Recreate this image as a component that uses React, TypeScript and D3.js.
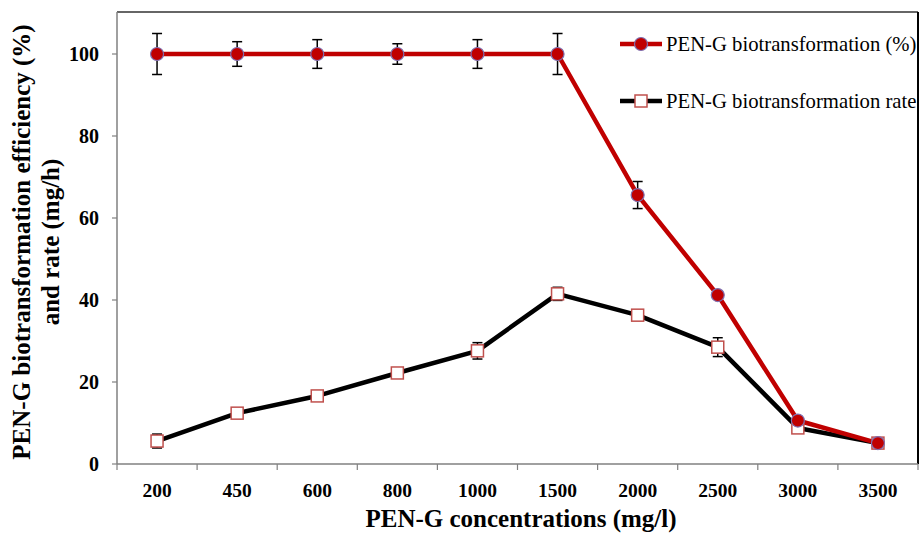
import React from "react";
import * as d3 from "d3";

const categories = ["200", "450", "600", "800", "1000", "1500", "2000", "2500", "3000", "3500"];
const efficiency = [100, 100, 100, 100, 100, 100, 65.6, 41.2, 10.6, 5.1];
const efficiencyErr = [5, 3, 3.5, 2.5, 3.5, 5, 3.3, 0, 0, 0];
const rate = [5.6, 12.4, 16.6, 22.2, 27.6, 41.5, 36.3, 28.5, 8.8, 5.1];
const rateErr = [1.7, 0, 0, 0, 2, 1.6, 0.8, 2.3, 0, 0];
const yTicks = [0, 20, 40, 60, 80, 100];

const W = 920, H = 533;
const L = 117, R = 918, T = 12, B = 464;

export default function App() {
  const x = d3.scaleBand<string>().domain(categories).range([L, R]);
  const y = d3.scaleLinear().domain([0, 100]).range([B, B - 410]);
  const cx = (c: string) => (x(c) as number) + x.bandwidth() / 2;
  const line = d3.line<number>().x((_, i) => cx(categories[i])).y((d) => y(d));
  const font = "'Liberation Serif', 'Times New Roman', serif";
  const boundaries = categories.map((c) => x(c) as number).concat([R]);

  const errBars = (vals: number[], errs: number[], key: string) =>
    vals.map((v, i) =>
      errs[i] > 0 ? (
        <g key={key + i} stroke="#000" strokeWidth={1.5}>
          <line x1={cx(categories[i])} x2={cx(categories[i])} y1={y(v + errs[i])} y2={y(v - errs[i])} />
          <line x1={cx(categories[i]) - 5} x2={cx(categories[i]) + 5} y1={y(v + errs[i])} y2={y(v + errs[i])} />
          <line x1={cx(categories[i]) - 5} x2={cx(categories[i]) + 5} y1={y(v - errs[i])} y2={y(v - errs[i])} />
        </g>
      ) : null
    );

  return (
    <svg width={W} height={H} style={{ position: "absolute", left: 0, top: 0, background: "#fff" }} fontFamily={font}>
      <rect x={0} y={0} width={W} height={H} fill="#fff" />
      {/* frame */}
      <line x1={L} x2={R} y1={T} y2={T} stroke="#333" strokeWidth={1.5} />
      <line x1={R} x2={R} y1={T} y2={B} stroke="#000" strokeWidth={2} />
      <line x1={L} x2={L} y1={T} y2={B} stroke="#808080" strokeWidth={1.5} />
      <line x1={L} x2={R} y1={B} y2={B} stroke="#808080" strokeWidth={1.5} />
      {/* y ticks */}
      {yTicks.map((t) => (
        <g key={"yt" + t}>
          <line x1={L - 5} x2={L} y1={y(t)} y2={y(t)} stroke="#808080" strokeWidth={1.2} />
          <text x={99} y={y(t) + 7} textAnchor="end" fontSize={20} fontWeight="bold">{t}</text>
        </g>
      ))}
      {/* x ticks */}
      {boundaries.map((b, i) => (
        <line key={"xt" + i} x1={b} x2={b} y1={B} y2={B + 6} stroke="#808080" strokeWidth={1.2} />
      ))}
      {categories.map((c) => (
        <text key={"xl" + c} x={cx(c)} y={497} textAnchor="middle" fontSize={19.5} fontWeight="bold">{c}</text>
      ))}
      {/* axis titles */}
      <text x={521} y={527} textAnchor="middle" fontSize={25} fontWeight="bold">PEN-G concentrations (mg/l)</text>
      <text transform={`translate(29.5, 242) rotate(-90)`} textAnchor="middle" fontSize={25} fontWeight="bold">PEN-G biotransformation efficiency (%)</text>
      <text transform={`translate(59, 242) rotate(-90)`} textAnchor="middle" fontSize={25} fontWeight="bold">and rate (mg/h)</text>
      {/* error bars */}
      {errBars(efficiency, efficiencyErr, "e")}
      {errBars(rate, rateErr, "r")}
      {/* lines */}
      <path d={line(rate) as string} fill="none" stroke="#000" strokeWidth={4.5} strokeLinejoin="round" />
      <path d={line(efficiency) as string} fill="none" stroke="#c00000" strokeWidth={4.5} strokeLinejoin="round" />
      {rate.map((v, i) => (
        <rect key={"rm" + i} x={cx(categories[i]) - 6} y={y(v) - 6} width={12} height={12} fill="#fff" stroke="#c0504d" strokeWidth={1.5} />
      ))}
      {efficiency.map((v, i) => (
        <circle key={"em" + i} cx={cx(categories[i])} cy={y(v)} r={6.5} fill="#c00000" stroke="#7f6fb0" strokeWidth={1.2} />
      ))}
      {/* legend */}
      <g>
        <line x1={620} x2={662} y1={44} y2={44} stroke="#c00000" strokeWidth={4.5} />
        <circle cx={641} cy={44} r={6.5} fill="#c00000" stroke="#7f6fb0" strokeWidth={1.2} />
        <text x={666} y={51} fontSize={20.7}>PEN-G biotransformation (%)</text>
        <line x1={620} x2={662} y1={101} y2={101} stroke="#000" strokeWidth={4.5} />
        <rect x={635} y={95} width={12} height={12} fill="#fff" stroke="#c0504d" strokeWidth={1.5} />
        <text x={666} y={108} fontSize={20.7}>PEN-G biotransformation rate</text>
      </g>
    </svg>
  );
}
